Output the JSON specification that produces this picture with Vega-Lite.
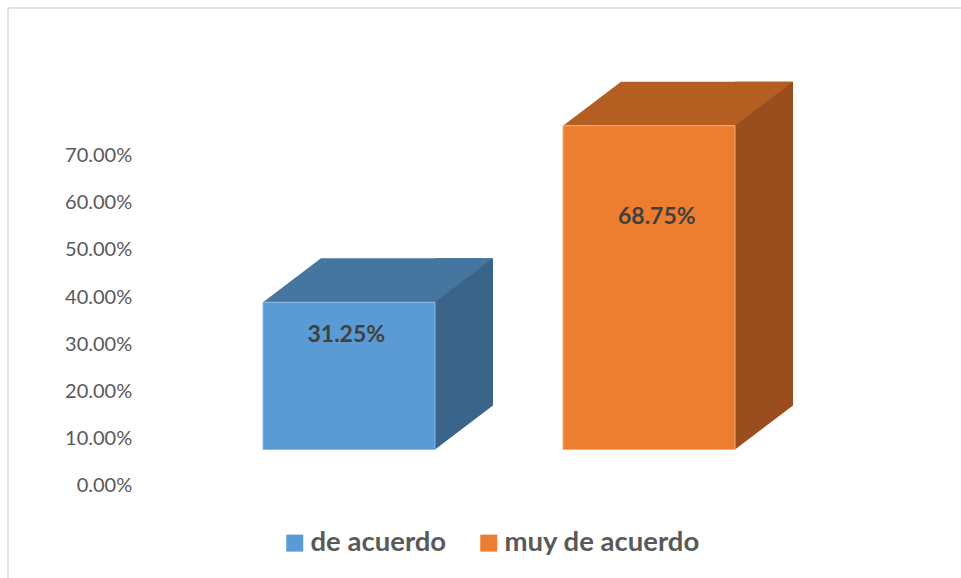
{
  "$schema": "https://vega.github.io/schema/vega-lite/v6.json",
  "width": 955,
  "height": 572,
  "autosize": {"type": "none"},
  "padding": {"left": 8, "top": 8, "right": -2, "bottom": -2},
  "background": "white",
  "config": {
    "view": {"stroke": "#D9D9D9", "strokeWidth": 1.5},
    "font": "Lato"
  },
  "data": {
    "values": [
      {"cat": "de acuerdo", "value": 0.3125},
      {"cat": "muy de acuerdo", "value": 0.6875}
    ]
  },
  "encoding": {
    "x": {"field": "cat", "type": "nominal", "scale": {"type": "point", "range": [341, 641], "padding": 0}, "axis": null},
    "y": {
      "field": "value", "type": "quantitative",
      "scale": {"domain": [-0.20064, 1.0138], "nice": false, "zero": false},
      "axis": {
        "values": [0, 0.1, 0.2, 0.3, 0.4, 0.5, 0.6, 0.7],
        "format": ".2%", "title": null, "domain": false, "ticks": false, "tickSize": 0, "grid": false,
        "labelPadding": 0, "offset": -123.7, "labelFont": "Lato", "labelFontSize": 20,
        "labelColor": "#595959", "labelBaseline": "middle"
      }
    }
  },
  "layer": [
    {
      "mark": {"type": "bar", "width": 58, "xOffset": 115, "yOffset": -80, "y2Offset": -80},
      "encoding": {
        "y2": {"datum": 0},
        "fill": {"condition": {"test": "datum.cat === 'de acuerdo'", "value": "#3A6489"}, "value": "#9A4E1E"}
      }
    },
    {
      "mark": {"type": "point", "shape": "M86,-46L86,0L144,-44L144,-46Z", "size": 4, "filled": true, "opacity": 1, "strokeWidth": 0, "yOffset": -36},
      "encoding": {
        "y": {"datum": 0},
        "fill": {"condition": {"test": "datum.cat === 'de acuerdo'", "value": "#3A6489"}, "value": "#9A4E1E"}
      }
    },
    {
      "mark": {"type": "point", "shape": "M-86,0L-28,-44L144,-44L86,0Z", "size": 4, "filled": true, "opacity": 1, "strokeWidth": 0, "yOffset": -36},
      "encoding": {
        "fill": {"condition": {"test": "datum.cat === 'de acuerdo'", "value": "#45769F"}, "value": "#B45E22"}
      }
    },
    {
      "mark": {"type": "bar", "width": 172, "yOffset": -36, "y2Offset": -36, "strokeWidth": 1},
      "encoding": {
        "y2": {"datum": 0},
        "color": {
          "field": "cat", "type": "nominal",
          "scale": {"domain": ["de acuerdo", "muy de acuerdo"], "range": ["#5B9BD5", "#ED7D31"]},
          "legend": {
            "title": null, "orient": "none", "legendX": 273, "legendY": 521, "direction": "horizontal",
            "symbolType": "square", "symbolSize": 289, "symbolStrokeWidth": 0,
            "labelFont": "Lato", "labelFontSize": 27.5, "labelFontWeight": "bold", "labelColor": "#595959",
            "labelOffset": 2, "columnPadding": 28, "labelLimit": 400
          }
        },
        "stroke": {"condition": {"test": "datum.cat === 'de acuerdo'", "value": "#8DB9E4"}, "value": "#F4AE7E"}
      }
    },
    {
      "transform": [{"filter": "datum.cat === 'de acuerdo'"}],
      "mark": {"type": "text", "dx": -2.7, "dy": -3.3, "baseline": "middle", "align": "center", "font": "Lato", "fontSize": 23, "fontWeight": "bold", "color": "#404040"},
      "encoding": {"text": {"field": "value", "type": "quantitative", "format": ".2%"}}
    },
    {
      "transform": [{"filter": "datum.cat === 'muy de acuerdo'"}],
      "mark": {"type": "text", "dx": 7.8, "dy": 55, "baseline": "middle", "align": "center", "font": "Lato", "fontSize": 23, "fontWeight": "bold", "color": "#404040"},
      "encoding": {"text": {"field": "value", "type": "quantitative", "format": ".2%"}}
    }
  ]
}
